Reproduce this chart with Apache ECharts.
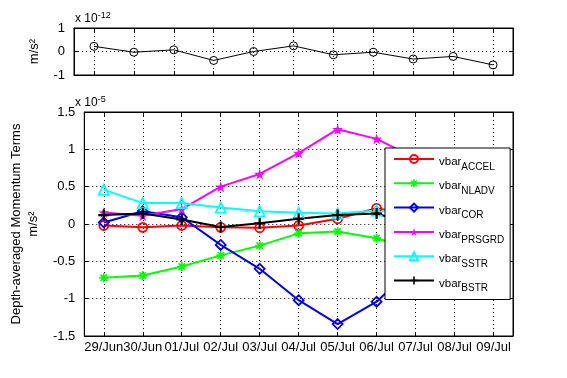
<!DOCTYPE html>
<html><head><meta charset="utf-8">
<script src="https://cdn.jsdelivr.net/npm/echarts@6/dist/echarts.min.js"></script>
<style>html,body{margin:0;padding:0;background:#fff}#c{width:567px;height:378px}</style>
</head><body><div id="c"></div>
<script>
// ---- data ----
const dates = ['29/Jun','30/Jun','01/Jul','02/Jul','03/Jul','04/Jul','05/Jul','06/Jul','07/Jul','08/Jul','09/Jul'];
// top panel (x 1e-12 m/s^2)
const residual = [0.22, -0.03, 0.07, -0.38, 0.0, 0.24, -0.14, -0.03, -0.32, -0.21, -0.57];
// bottom panel (x 1e-5 m/s^2)
const accel  = [-0.02, -0.045, -0.02, -0.045, -0.05, -0.02, 0.07, 0.21, 0.12, 0.05, 0.02];
const nladv  = [-0.72, -0.69, -0.57, -0.42, -0.29, -0.125, -0.10, -0.19, -0.35, -0.40, -0.45];
const cor    = [0.02, 0.17, 0.09, -0.28, -0.60, -1.02, -1.34, -1.04, -0.55, -0.30, -0.10];
const prsgrd = [0.155, 0.11, 0.20, 0.50, 0.67, 0.95, 1.27, 1.14, 0.88, 0.60, 0.40];
const sstr   = [0.46, 0.28, 0.28, 0.22, 0.17, 0.15, 0.14, 0.18, 0.16, 0.14, 0.12];
const bstr   = [0.12, 0.14, 0.06, -0.04, 0.01, 0.07, 0.12, 0.14, -0.02, 0.05, 0.08];
const topTicks = {min: -1, max: 1, interval: 1};
const botTicks = {min: -1.5, max: 1.5, interval: 0.5};
const names = ['ACCEL','NLADV','COR','PRSGRD','SSTR','BSTR'];

const FONT = 'Liberation Sans, Arial, sans-serif';
function dotted() { return {color: '#000', width: 1, type: [1, 3]}; }
const starPath = 'path://M50,0 L61,35 L98,35 L68,57 L79,91 L50,70 L21,91 L32,57 L2,35 L39,35 Z';
const plusPath = 'path://M4,0 H6 V4 H10 V6 H6 V10 H4 V6 H0 V4 H4 Z';
const asterPath = 'path://M40,0 H60 V26 L80,8 L92,22 L70,40 H100 V60 H70 L92,78 L80,92 L60,74 V100 H40 V74 L20,92 L8,78 L30,60 H0 V40 H30 L8,22 L20,8 L40,26 Z';

function xAx(grid, pos, labels) {
  return {
    type: 'category', gridIndex: grid, position: pos, data: dates, boundaryGap: true,
    axisLine: {show: true, onZero: false, lineStyle: {color: '#000', width: 1}},
    axisTick: {show: true, inside: true, length: 4, alignWithLabel: true, lineStyle: {color: '#000'}},
    axisLabel: {show: labels, color: '#000', fontFamily: FONT, fontSize: 13, margin: 5, interval: 0},
    splitLine: {show: pos === 'bottom', alignWithLabel: true, interval: 0, lineStyle: dotted()}
  };
}
function yAx(grid, pos, t, labels, name, gap) {
  return {
    type: 'value', gridIndex: grid, position: pos, min: t.min, max: t.max, interval: t.interval,
    axisLine: {show: true, onZero: false, lineStyle: {color: '#000', width: 1}},
    axisTick: {show: true, inside: true, length: 4, lineStyle: {color: '#000'}},
    axisLabel: {show: labels, color: '#000', fontFamily: FONT, fontSize: 13, margin: 9},
    splitLine: {show: pos === 'left', lineStyle: dotted()},
    name: name || '', nameLocation: 'middle', nameRotate: 90, nameGap: gap || 0,
    nameTextStyle: {color: '#000', fontFamily: FONT, fontSize: 13, lineHeight: 17}
  };
}

const styles = [
  {c: '#ff0000', sym: 'circle', size: 9, hollow: true},
  {c: '#00ff00', sym: asterPath, size: 9, hollow: false},
  {c: '#0000ff', sym: 'diamond', size: 10, hollow: true},
  {c: '#ff00ff', sym: starPath, size: 11, hollow: false},
  {c: '#00ffff', sym: 'triangle', size: 10, hollow: true},
  {c: '#000000', sym: plusPath, size: 11, hollow: false}
];
const botData = [accel, nladv, cor, prsgrd, sstr, bstr];

const series = [{
  type: 'line', xAxisIndex: 0, yAxisIndex: 0, data: residual, color: '#000',
  symbol: 'circle', symbolSize: 8, showAllSymbol: true,
  itemStyle: {color: 'none', borderColor: '#000', borderWidth: 1},
  lineStyle: {color: '#000', width: 1}, animation: false, silent: true
}];
botData.forEach((d, i) => {
  const s = styles[i];
  series.push({
    type: 'line', name: 'vbar' + names[i], xAxisIndex: 2, yAxisIndex: 2, data: d,
    color: s.c, symbol: s.sym, symbolSize: s.size, showAllSymbol: true,
    itemStyle: s.hollow ? {color: 'none', borderColor: s.c, borderWidth: 1.8} : {color: s.c, borderWidth: 0},
    lineStyle: {color: s.c, width: 2}, animation: false, silent: true
  });
});

const chart = echarts.init(document.getElementById('c'), null, {renderer: 'canvas'});
chart.setOption({
  backgroundColor: '#fff',
  animation: false,
  grid: [
    {left: 74, top: 28, width: 439, height: 47, show: true, borderColor: '#000', borderWidth: 1, containLabel: false},
    {left: 74, top: 112, width: 439, height: 224, show: true, borderColor: '#000', borderWidth: 1, containLabel: false}
  ],
  xAxis: [xAx(0, 'bottom', false), xAx(0, 'top', false), xAx(1, 'bottom', true), xAx(1, 'top', false)],
  yAxis: [
    yAx(0, 'left', topTicks, true, 'm/s²', 27), yAx(0, 'right', topTicks, false),
    yAx(1, 'left', botTicks, true, 'Depth-averaged Momentum Terms\nm/s²', 34), yAx(1, 'right', botTicks, false)
  ],
  legend: {
    orient: 'vertical', left: 385, top: 148, padding: [4, 6, 6, 8], itemGap: 4.3,
    itemWidth: 40, itemHeight: 10, backgroundColor: '#fff', borderColor: '#000', borderWidth: 1,
    borderRadius: 0, z: 20, selectedMode: false,
    data: names.map(n => 'vbar' + n),
    formatter: n => '{a|vbar}{b|' + n.slice(4) + '}',
    textStyle: {
      color: '#000', fontFamily: FONT,
      rich: {
        a: {fontSize: 11.5, fontFamily: FONT, color: '#000', lineHeight: 14, padding: [4, 0, 0, 0], verticalAlign: 'top'},
        b: {fontSize: 10, fontFamily: FONT, color: '#000', lineHeight: 12, padding: [10, 0, 0, 0], verticalAlign: 'top'}
      }
    }
  },
  graphic: [
    {type: 'text', left: 75, top: 8, style: {text: '{a|x 10}{b|-12}', fill: '#000',
      rich: {a: {fontSize: 12, fontFamily: FONT, lineHeight: 14, padding: [5, 0, 0, 0], verticalAlign: 'bottom'}, b: {fontSize: 9, fontFamily: FONT, lineHeight: 10, verticalAlign: 'top'}}}},
    {type: 'text', left: 75, top: 92, style: {text: '{a|x 10}{b|-5}', fill: '#000',
      rich: {a: {fontSize: 12, fontFamily: FONT, lineHeight: 14, padding: [5, 0, 0, 0], verticalAlign: 'bottom'}, b: {fontSize: 9, fontFamily: FONT, lineHeight: 10, verticalAlign: 'top'}}}}
  ],
  series: series
});
</script></body></html>
